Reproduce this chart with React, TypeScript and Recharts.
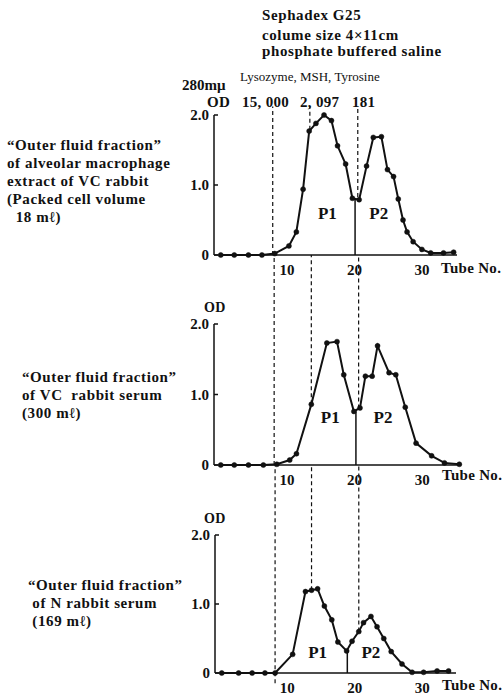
import React from 'react';
import { LineChart, Line, XAxis, YAxis, ReferenceLine, ReferenceDot } from 'recharts';

// tube number / OD at 280 mμ
const tubesA = [0.2, 2.2, 4.3, 6.3, 8.2, 10.3, 11.4, 12.4, 13.3, 14.3, 15.5, 16.6, 17.5, 18.7, 19.7, 20.7, 21.8, 22.8, 24.0, 24.9, 25.8, 26.5, 27.2, 27.8, 28.7, 30.0, 31.3, 33.2, 34.7];
const odA = [0, 0, 0, 0, 0.02, 0.13, 0.33, 0.94, 1.77, 1.88, 2.0, 1.92, 1.56, 1.3, 0.81, 0.79, 1.27, 1.68, 1.69, 1.22, 1.12, 0.8, 0.5, 0.33, 0.19, 0.08, 0.03, 0.03, 0.04];

const tubesB = [0.2, 2.2, 4.3, 6.5, 8.5, 10.4, 11.4, 13.6, 15.9, 17.4, 18.4, 19.9, 20.8, 21.6, 22.6, 23.4, 25.1, 26.1, 27.5, 29.1, 31.4, 33.3, 35.5];
const odB = [0, 0, 0, 0, 0.01, 0.07, 0.16, 0.86, 1.73, 1.75, 1.28, 0.76, 0.81, 1.26, 1.26, 1.69, 1.31, 1.28, 0.82, 0.31, 0.13, 0.03, 0.01];

const tubesC = [0.3, 2.8, 4.8, 6.7, 8.2, 10.8, 12.7, 13.6, 14.5, 15.5, 16.6, 17.5, 18.8, 19.6, 20.6, 21.3, 22.4, 23.3, 24.3, 25.4, 27.0, 28.5, 30.2, 32.2, 33.9];
const odC = [0, 0, 0, 0, 0, 0.27, 1.18, 1.2, 1.22, 0.97, 0.77, 0.45, 0.32, 0.46, 0.6, 0.73, 0.82, 0.67, 0.5, 0.31, 0.13, 0.01, 0.01, 0.03, 0.03];

const xTicks = [10, 20, 30];
const yTicks = [0, 1, 2];
const markerNames = ['15, 000', '2, 097', '181'];

const font = '"Liberation Serif", "DejaVu Serif", serif';

type Seg = { x: number; from: number; to: number };

type PanelProps = {
  tubes: number[];
  od: number[];
  top: number;
  height: number;
  margin: { top: number; right: number; bottom: number; left: number };
  xDomain: [number, number];
  dashes: Seg[];
  divider: Seg;
  p1: [number, number];
  p2: [number, number];
};

const Panel = ({ tubes, od, top, height, margin, xDomain, dashes, divider, p1, p2 }: PanelProps) => {
  const data = tubes.map((t, i) => ({ tube: t, od: od[i] }));
  const tickStyle = { fontFamily: font, fontSize: 15, fill: '#111', fontWeight: 'bold' };
  return (
    <div style={{ position: 'absolute', left: 0, top }}>
      <LineChart width={504} height={height} data={data} margin={margin}>
        <XAxis
          dataKey="tube"
          type="number"
          domain={xDomain}
          ticks={xTicks}
          height={1}
          tickLine={false}
          tickMargin={3}
          axisLine={{ stroke: '#111', strokeWidth: 1.5 }}
          tick={tickStyle}
        />
        <YAxis
          type="number"
          domain={[0, 2]}
          ticks={yTicks}
          width={1}
          tickSize={-4}
          tickMargin={9}
          tickLine={{ stroke: '#111', strokeWidth: 1.5 }}
          axisLine={{ stroke: '#111', strokeWidth: 1.5 }}
          tick={tickStyle}
          tickFormatter={(v: number) => (v === 0 ? '0' : v.toFixed(1))}
        />
        {dashes.map((d, i) => (
          <ReferenceLine
            key={i}
            segment={[{ x: d.x, y: d.from }, { x: d.x, y: d.to }]}
            stroke="#111"
            strokeWidth={1.2}
            strokeDasharray="4 3"
            ifOverflow="visible"
          />
        ))}
        <ReferenceLine
          segment={[{ x: divider.x, y: divider.from }, { x: divider.x, y: divider.to }]}
          stroke="#111"
          strokeWidth={1.5}
          ifOverflow="visible"
        />
        <ReferenceDot x={p1[0]} y={p1[1]} r={0} ifOverflow="visible"
          label={{ value: 'P1', position: 'center', fontFamily: font, fontSize: 17, fill: '#111', fontWeight: 'bold' }} />
        <ReferenceDot x={p2[0]} y={p2[1]} r={0} ifOverflow="visible"
          label={{ value: 'P2', position: 'center', fontFamily: font, fontSize: 17, fill: '#111', fontWeight: 'bold' }} />
        <Line
          dataKey="od"
          type="linear"
          stroke="#111"
          strokeWidth={2}
          dot={{ r: 2.5, fill: '#111', stroke: '#111', strokeWidth: 0.5 }}
          isAnimationActive={false}
        />
      </LineChart>
    </div>
  );
};

const Txt = ({ x, y, size = 15, children, spacing = 0.6, lh = 18, bold = true }: any) => (
  <div
    style={{
      position: 'absolute',
      left: x,
      top: y,
      fontFamily: font,
      fontSize: size,
      fontWeight: bold ? 'bold' : 'normal',
      lineHeight: `${lh}px`,
      letterSpacing: spacing,
      color: '#111',
      whiteSpace: 'pre',
    }}
  >
    {children}
  </div>
);

export default function App() {
  return (
    <div style={{ position: 'absolute', left: 0, top: 0, width: 504, height: 697, background: '#fff', overflow: 'hidden' }}>
      <Txt x={262} y={6}>Sephadex G25</Txt>
      <Txt x={262} y={26}>colume size 4×11cm</Txt>
      <Txt x={262} y={42}>phosphate buffered saline</Txt>
      <Txt x={240} y={68} size={13} spacing={0} bold={false}>Lysozyme, MSH, Tyrosine</Txt>
      <Txt x={182} y={76} spacing={0}>280mμ</Txt>
      <Txt x={207} y={93} spacing={0.3}>OD</Txt>
      <Txt x={242} y={93} spacing={0.3}>{markerNames[0]}</Txt>
      <Txt x={300} y={93} spacing={0.3}>{markerNames[1]}</Txt>
      <Txt x={352} y={93} spacing={0.3}>{markerNames[2]}</Txt>

      <Txt x={7} y={136}>{'“Outer fluid fraction”\nof alveolar macrophage\nextract of VC rabbit\n(Packed cell volume\n  18 mℓ)'}</Txt>
      <Txt x={22} y={368}>{'“Outer fluid fraction”\nof VC  rabbit serum\n(300 mℓ)'}</Txt>
      <Txt x={28} y={576}>{'“Outer fluid fraction”\n of N rabbit serum\n (169 mℓ)'}</Txt>

      <Panel
        tubes={tubesA}
        od={odA}
        top={0}
        height={300}
        margin={{ top: 115, right: 47, bottom: 44, left: 213 }}
        xDomain={[-0.8, 35.2]}
        dashes={[
          { x: 7.9, from: 0, to: 2.12 },
          { x: 13.4, from: 1.79, to: 2.12 },
          { x: 20.5, from: 0.83, to: 2.12 },
        ]}
        divider={{ x: 20.1, from: 0, to: 0.8 }}
        p1={[16.0, 0.6]}
        p2={[23.6, 0.6]}
      />
      <Panel
        tubes={tubesB}
        od={odB}
        top={255}
        height={245}
        margin={{ top: 69, right: 44, bottom: 34, left: 213 }}
        xDomain={[-0.8, 35.6]}
        dashes={[
          { x: 8.1, from: 0, to: 3.0 },
          { x: 13.6, from: 0.86, to: 3.0 },
          { x: 20.6, from: 0.8, to: 3.0 },
        ]}
        divider={{ x: 20.2, from: 0, to: 0.76 }}
        p1={[16.4, 0.68]}
        p2={[24.2, 0.68]}
      />
      <Panel
        tubes={tubesC}
        od={odC}
        top={465}
        height={232}
        margin={{ top: 70, right: 48, bottom: 23, left: 214 }}
        xDomain={[-0.7, 35.0]}
        dashes={[
          { x: 8.2, from: -0.15, to: 3.0 },
          { x: 13.6, from: 1.2, to: 3.0 },
          { x: 20.6, from: 0.6, to: 3.0 },
        ]}
        divider={{ x: 18.9, from: 0, to: 0.32 }}
        p1={[14.5, 0.3]}
        p2={[22.4, 0.3]}
      />

      <Txt x={204} y={300} size={14} spacing={0.3} lh={16}>OD</Txt>
      <Txt x={204} y={511} size={14} spacing={0.3} lh={16}>OD</Txt>
      <Txt x={441} y={259} spacing={0.3}>Tube No.</Txt>
      <Txt x={442} y={466} spacing={0.3}>Tube No.</Txt>
      <Txt x={442} y={676} spacing={0.3}>Tube No.</Txt>
    </div>
  );
}
